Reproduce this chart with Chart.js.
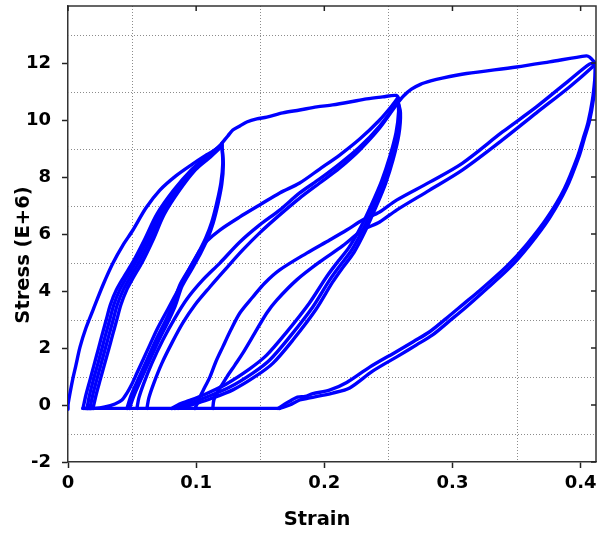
<!DOCTYPE html>
<html>
<head>
<meta charset="utf-8">
<script src="https://cdn.jsdelivr.net/npm/chart.js@4.4.1/dist/chart.umd.min.js"></script>
<style>
  html, body { margin: 0; padding: 0; background: #ffffff; }
  #wrap { width: 597px; height: 534px; }
</style>
</head>
<body>
<div id="wrap"><canvas id="chart" width="597" height="534"></canvas></div>
<script>
// Axis ticks and dotted grid positions
const xTicks = [0, 0.1, 0.2, 0.3, 0.4];
const yTicks = [-2, 0, 2, 4, 6, 8, 10, 12];
const xGrid = [0.05, 0.15, 0.25, 0.35];
const yGrid = [-1, 1, 3, 5, 7, 9, 11, 13];
const xTitle = 'Strain';
const yTitle = 'Stress (E+6)';

// Stress-strain record, one array per branch: [strain, stress (E+6)]
// First loading up to the first strain level
const virgin1 = [[0,-0.15],[0,0],[0.0016,0.42],[0.0039,0.95],[0.0062,1.40],[0.0094,2.04],[0.0140,2.70],[0.0195,3.33],[0.0273,4.21],[0.0351,4.98],[0.0429,5.61],[0.0507,6.14],[0.0608,6.91],[0.0717,7.54],[0.0842,8.04],[0.0974,8.46],[0.1083,8.78],[0.1161,9.00],[0.1200,9.18]];
// Loading continued to the second level
const virgin2 = [[0.1200,9.18],[0.1247,9.44],[0.1286,9.65],[0.1341,9.79],[0.1395,9.93],[0.1473,10.04],[0.1551,10.10],[0.1676,10.25],[0.1808,10.35],[0.1941,10.46],[0.2065,10.53],[0.2198,10.63],[0.2330,10.74],[0.2455,10.81],[0.2564,10.86],[0.2588,10.70]];
// Loading continued to the third level
const virgin3 = [[0.2572,10.60],[0.2620,10.85],[0.2680,11.08],[0.2750,11.25],[0.2830,11.37],[0.2920,11.47],[0.3110,11.63],[0.3500,11.86],[0.3757,12.04],[0.4045,12.25],[0.4069,12.21],[0.4115,12.00]];

// Cycles at the first level
const cycle1a = [[0.0117,-0.12],[0.0140,0.35],[0.0172,0.88],[0.0203,1.40],[0.0235,1.93],[0.0266,2.46],[0.0298,2.98],[0.0330,3.51],[0.0378,4.04],[0.0435,4.49],[0.0507,5.02],[0.0596,5.79],[0.0694,6.70],[0.0825,7.54],[0.0962,8.25],[0.1085,8.72],[0.1200,9.15]];
const cycle1b = [[0.0148,-0.12],[0.0168,0.35],[0.0198,0.88],[0.0230,1.40],[0.0262,1.93],[0.0293,2.46],[0.0325,2.98],[0.0357,3.51],[0.0404,4.04],[0.0460,4.49],[0.0530,5.02],[0.0617,5.79],[0.0711,6.70],[0.0838,7.54],[0.0971,8.25],[0.1089,8.71],[0.1200,9.12]];
const cycle1c = [[0.0171,-0.12],[0.0193,0.35],[0.0224,0.88],[0.0256,1.40],[0.0288,1.93],[0.0320,2.46],[0.0352,2.98],[0.0384,3.51],[0.0431,4.04],[0.0486,4.49],[0.0555,5.02],[0.0640,5.79],[0.0732,6.70],[0.0855,7.54],[0.0982,8.25],[0.1095,8.69],[0.1200,9.10]];
const cycle1d = [[0.0195,-0.12],[0.0219,0.35],[0.0251,0.88],[0.0283,1.40],[0.0316,1.93],[0.0348,2.46],[0.0380,2.98],[0.0412,3.51],[0.0458,4.04],[0.0512,4.49],[0.0580,5.02],[0.0663,5.79],[0.0752,6.70],[0.0871,7.54],[0.0994,8.25],[0.1102,8.67],[0.1200,9.08]];

// Unloading from the first level
const unload1a = [[0.1200,9.15],[0.1208,8.49],[0.1193,7.79],[0.1161,7.09],[0.1122,6.42],[0.1075,5.86],[0.1021,5.37],[0.0951,4.81],[0.0873,4.21],[0.0818,3.51],[0.0756,2.91],[0.0686,2.28],[0.0616,1.58],[0.0545,0.88],[0.0491,0.32],[0.0460,-0.12]];
const unload1b = [[0.1200,9.15],[0.1212,8.45],[0.1200,7.75],[0.1170,7.05],[0.1132,6.38],[0.1087,5.82],[0.1035,5.33],[0.0966,4.77],[0.0890,4.17],[0.0836,3.47],[0.0775,2.87],[0.0705,2.24],[0.0635,1.54],[0.0564,0.84],[0.0510,0.28],[0.0480,-0.12]];
// Reloading from the slack region towards the second level
const toe1 = [[0.0117,-0.12],[0.0210,-0.12],[0.0288,-0.07],[0.0366,0.035],[0.0421,0.175],[0.0460,0.42],[0.0499,0.74],[0.0538,1.12],[0.0585,1.58],[0.0639,2.11],[0.0700,2.70],[0.0780,3.37],[0.0873,4.15],[0.0951,4.81],[0.1021,5.37]];
const reload2a = [[0.1021,5.37],[0.1083,5.75],[0.1185,6.14],[0.1341,6.60],[0.1496,7.02],[0.1652,7.44],[0.1808,7.79],[0.1964,8.28],[0.2120,8.77],[0.2276,9.33],[0.2432,10.00],[0.2533,10.53],[0.2572,10.77]];
const reload2b = [[0.0538,-0.12],[0.0553,0.25],[0.0592,0.77],[0.0655,1.47],[0.0740,2.28],[0.0834,3.05],[0.0928,3.72],[0.1052,4.39],[0.1185,4.98],[0.1341,5.72],[0.1496,6.32],[0.1652,6.84],[0.1808,7.44],[0.1964,7.93],[0.2120,8.46],[0.2276,9.05],[0.2432,9.79],[0.2572,10.63]];
const reload2c = [[0.0616,-0.12],[0.0631,0.25],[0.0670,0.77],[0.0733,1.47],[0.0811,2.18],[0.0896,2.88],[0.0990,3.51],[0.1107,4.14],[0.1224,4.74],[0.1364,5.44],[0.1496,6.04],[0.1652,6.67],[0.1808,7.26],[0.1964,7.79],[0.2120,8.32],[0.2276,8.95],[0.2432,9.72],[0.2572,10.60]];

// Unloading from the second level
const unload2a = [[0.2572,10.70],[0.2588,10.28],[0.2572,9.54],[0.2525,8.67],[0.2463,7.82],[0.2385,6.98],[0.2307,6.21],[0.2214,5.44],[0.2120,4.88],[0.2042,4.39],[0.1910,3.44],[0.1730,2.39],[0.1574,1.58],[0.1442,1.12],[0.1263,0.63],[0.1083,0.28],[0.0974,0.105],[0.0896,0.00],[0.0834,-0.12]];
const unload2b = [[0.2572,10.70],[0.2580,10.30],[0.2560,9.56],[0.2510,8.70],[0.2447,7.86],[0.2368,7.03],[0.2289,6.28],[0.2193,5.53],[0.2097,4.98],[0.2018,4.50],[0.1884,3.58],[0.1703,2.54],[0.1548,1.74],[0.1415,1.26],[0.1236,0.74],[0.1060,0.36],[0.0950,0.16],[0.0870,0.03],[0.0810,-0.12]];
const unload2c = [[0.2572,10.70],[0.2594,10.25],[0.2582,9.50],[0.2537,8.62],[0.2477,7.76],[0.2400,6.92],[0.2323,6.14],[0.2232,5.36],[0.2140,4.80],[0.2063,4.30],[0.1933,3.34],[0.1755,2.28],[0.1600,1.47],[0.1468,1.02],[0.1290,0.54],[0.1108,0.21],[0.0998,0.05],[0.0920,-0.05],[0.0860,-0.12]];

// Cycles at the third level: reloading branches
const reload3a = [[0.0990,-0.12],[0.1014,0.105],[0.1029,0.28],[0.1068,0.63],[0.1107,0.98],[0.1153,1.51],[0.1208,2.04],[0.1270,2.63],[0.1341,3.23],[0.1442,3.79],[0.1536,4.28],[0.1652,4.74],[0.1863,5.33],[0.2042,5.79],[0.2175,6.14],[0.2299,6.49],[0.2432,6.77],[0.2564,7.19],[0.2822,7.82],[0.3079,8.49],[0.3390,9.58],[0.3655,10.46],[0.3913,11.40],[0.4069,11.96],[0.4115,12.00]];
const reload3b = [[0.1130,-0.12],[0.1138,0.175],[0.1161,0.42],[0.1200,0.70],[0.1239,0.98],[0.1302,1.40],[0.1364,1.82],[0.1458,2.53],[0.1551,3.23],[0.1629,3.68],[0.1785,4.39],[0.1964,5.02],[0.2143,5.58],[0.2299,6.14],[0.2432,6.42],[0.2564,6.84],[0.2822,7.54],[0.3079,8.25],[0.3390,9.30],[0.3655,10.25],[0.3913,11.16],[0.4092,11.86],[0.4115,12.00]];
// Unloading branches from the third level
const unload3a = [[0.4115,11.86],[0.4115,11.44],[0.4100,10.74],[0.4069,9.96],[0.4030,9.37],[0.3991,8.77],[0.3889,7.61],[0.3757,6.56],[0.3601,5.61],[0.3445,4.81],[0.3235,3.95],[0.3110,3.45],[0.2977,2.95],[0.2845,2.46],[0.2720,2.11],[0.2588,1.75],[0.2377,1.19],[0.2198,0.60],[0.2065,0.42],[0.1886,0.25],[0.1808,0.175],[0.1730,0.00],[0.1652,-0.12]];
const unload3b = [[0.4115,11.86],[0.4110,11.40],[0.4092,10.70],[0.4058,9.92],[0.4018,9.32],[0.3978,8.74],[0.3874,7.60],[0.3740,6.58],[0.3582,5.65],[0.3424,4.87],[0.3213,4.02],[0.3088,3.55],[0.2955,3.05],[0.2822,2.57],[0.2697,2.23],[0.2565,1.88],[0.2354,1.33],[0.2175,0.79],[0.2040,0.52],[0.1910,0.40],[0.1850,0.30],[0.1790,0.28],[0.1740,0.16],[0.1690,0.03],[0.1640,-0.12]];

// Slack region (no tension carried)
const slack = [[0.0117,-0.12],[0.1652,-0.12]];

const branches = [virgin1, virgin2, virgin3, cycle1a, cycle1b, cycle1c, cycle1d,
  unload1a, unload1b, toe1, reload2a, reload2b, reload2c,
  unload2a, unload2b, unload2c, reload3a, reload3b, unload3a, unload3b, slack];

const LINE = '#0000ff';
const FONT = '"DejaVu Sans", "Liberation Sans", sans-serif';

const datasets = branches.map(b => ({
  data: b.map(([x, y]) => ({ x, y })),
  showLine: true,
  borderColor: LINE,
  borderWidth: 3.4,
  pointRadius: 0,
  tension: 0.3,
  fill: false,
  borderCapStyle: 'round',
  borderJoinStyle: 'round'
}));

// Dotted grid between the major ticks, frame on top/right with inward ticks, axis titles
const framePlugin = {
  id: 'frame',
  beforeDatasetsDraw(chart) {
    const { ctx, chartArea: a, scales: { x, y } } = chart;
    ctx.save();
    ctx.strokeStyle = '#8c8c8c';
    ctx.lineWidth = 1;
    ctx.setLineDash([1, 2]);
    xGrid.forEach(v => {
      const p = Math.round(x.getPixelForValue(v)) + 0.5;
      ctx.beginPath(); ctx.moveTo(p, a.top); ctx.lineTo(p, a.bottom); ctx.stroke();
    });
    yGrid.forEach(v => {
      const p = Math.round(y.getPixelForValue(v)) + 0.5;
      ctx.beginPath(); ctx.moveTo(a.left, p); ctx.lineTo(a.right, p); ctx.stroke();
    });
    ctx.restore();
  },
  afterDraw(chart) {
    const { ctx, chartArea: a, scales: { x, y } } = chart;
    ctx.save();
    ctx.strokeStyle = '#333333';
    ctx.lineWidth = 1.5;
    ctx.beginPath();
    ctx.moveTo(a.left, a.top); ctx.lineTo(a.right, a.top); ctx.lineTo(a.right, a.bottom);
    ctx.stroke();
    ctx.strokeStyle = '#222222';
    xTicks.forEach(v => {
      const p = x.getPixelForValue(v);
      ctx.beginPath(); ctx.moveTo(p, a.top); ctx.lineTo(p, a.top + 5); ctx.stroke();
    });
    yTicks.forEach(v => {
      const p = y.getPixelForValue(v);
      ctx.beginPath(); ctx.moveTo(a.right, p); ctx.lineTo(a.right - 5, p); ctx.stroke();
    });
    ctx.fillStyle = '#000000';
    ctx.font = 'bold 19.5px ' + FONT;
    ctx.textAlign = 'center';
    ctx.textBaseline = 'middle';
    ctx.fillText(xTitle, 317, 520);
    ctx.translate(24, 255);
    ctx.rotate(-Math.PI / 2);
    ctx.fillText(yTitle, 0, 0);
    ctx.restore();
  }
};

const tickFont = { family: FONT, size: 18, weight: 'bold' };

new Chart(document.getElementById('chart'), {
  type: 'scatter',
  data: { datasets },
  options: {
    responsive: false,
    animation: false,
    events: [],
    layout: { padding: { top: 6, right: 1, left: 0, bottom: 0 } },
    plugins: { legend: { display: false }, tooltip: { enabled: false } },
    scales: {
      x: {
        type: 'linear', position: 'bottom', min: 0, max: 0.412,
        afterBuildTicks: s => { s.ticks = xTicks.map(v => ({ value: v })); },
        afterFit: s => { s.height = 72; s.paddingLeft = 0; s.paddingRight = 0; },
        ticks: { font: tickFont, color: '#000', padding: 5, maxRotation: 0, autoSkip: false },
        grid: { drawOnChartArea: false, tickLength: 6, tickColor: '#222', tickWidth: 1.5 },
        border: { display: true, color: '#333', width: 1.5 }
      },
      y: {
        type: 'linear', position: 'left', min: -2, max: 14,
        afterBuildTicks: s => { s.ticks = yTicks.map(v => ({ value: v })); },
        afterFit: s => { s.width = 68; s.paddingTop = 0; s.paddingBottom = 0; },
        ticks: { font: tickFont, color: '#000', padding: 11, autoSkip: false },
        grid: { drawOnChartArea: false, tickLength: 6, tickColor: '#222', tickWidth: 1.5 },
        border: { display: true, color: '#333', width: 1.5 }
      }
    }
  },
  plugins: [framePlugin]
});
</script>
</body>
</html>
